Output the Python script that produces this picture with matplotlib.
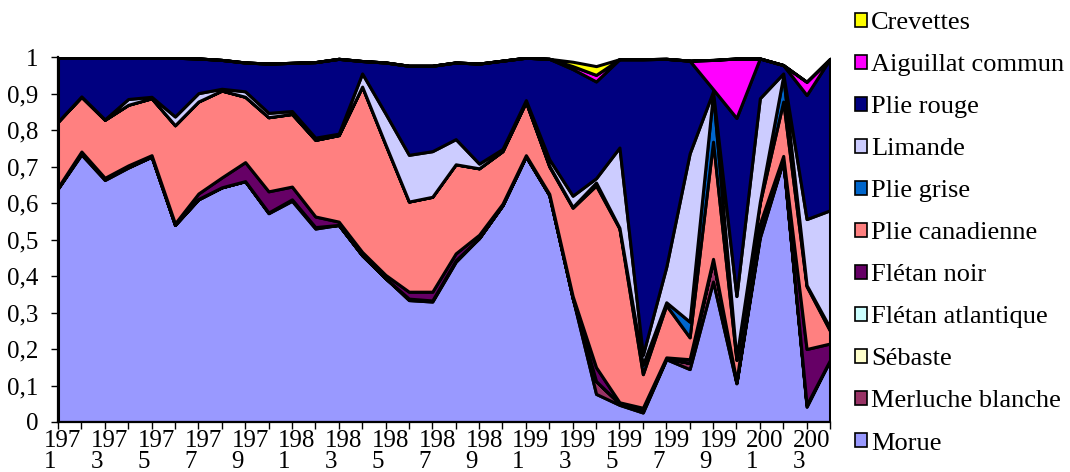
import matplotlib
matplotlib.use("Agg")
import matplotlib.pyplot as plt
import matplotlib.transforms as mtransforms
from matplotlib.patches import Patch

plt.rcParams['font.family'] = ['Liberation Serif', 'DejaVu Serif']

# Part de chaque espèce dans les débarquements, 1971-2004
annees = list(range(1971, 2005))

morue = [0.640, 0.733, 0.663, 0.697, 0.727, 0.540, 0.610, 0.643, 0.660, 0.572,
         0.606, 0.530, 0.540, 0.457, 0.394, 0.334, 0.330, 0.439, 0.504, 0.594,
         0.728, 0.622, 0.340, 0.077, 0.047, 0.026, 0.172, 0.145, 0.385, 0.106,
         0.505, 0.716, 0.042, 0.170]
merluche = [0, 0.003, 0.004, 0.001, 0, 0, 0, 0, 0, 0.002,
            0.004, 0.004, 0, 0, 0, 0.004, 0.003, 0.004, 0, 0,
            0, 0, 0, 0.035, 0.004, 0.005, 0.002, 0.017, 0.060, 0.002,
            0.008, 0.003, 0.005, 0]
sebaste = [0.001, 0.001, 0, 0.001, 0.001, 0.001, 0.001, 0, 0, 0,
           0, 0, 0, 0, 0, 0, 0, 0, 0, 0,
           0, 0, 0, 0, 0, 0, 0, 0, 0, 0,
           0, 0, 0, 0]
fletan_atl = [0, 0, 0, 0, 0, 0, 0, 0, 0, 0,
              0, 0, 0, 0, 0, 0, 0, 0, 0, 0,
              0, 0, 0, 0, 0, 0.001, 0, 0, 0, 0,
              0, 0.002, 0, 0]
fletan_noir = [0.002, 0.004, 0.002, 0.004, 0.003, 0.003, 0.015, 0.027, 0.052, 0.058,
               0.035, 0.029, 0.009, 0.009, 0.009, 0.019, 0.024, 0.019, 0.009, 0.004,
               0.003, 0.003, 0.005, 0.038, 0.003, 0.007, 0.003, 0.010, 0.002, 0.004,
               0.030, 0.008, 0.153, 0.045]
plie_can = [0.180, 0.150, 0.159, 0.166, 0.156, 0.269, 0.252, 0.238, 0.179, 0.203,
            0.199, 0.210, 0.237, 0.453, 0.357, 0.247, 0.260, 0.244, 0.182, 0.144,
            0.146, 0.075, 0.242, 0.498, 0.476, 0.092, 0.143, 0.060, 0.321, 0.058,
            0.057, 0.149, 0.172, 0.035]
plie_grise = [0, 0, 0, 0, 0, 0, 0, 0, 0, 0,
              0, 0, 0, 0, 0, 0, 0, 0, 0, 0,
              0, 0.002, 0.002, 0.008, 0.002, 0.026, 0.008, 0.043, 0.132, 0.005,
              0.003, 0.070, 0.003, 0.008]
limande = [0, 0.001, 0.001, 0.016, 0.004, 0.024, 0.023, 0.005, 0.015, 0.012,
           0.008, 0.006, 0.004, 0.036, 0.085, 0.128, 0.125, 0.069, 0.013, 0.006,
           0.005, 0.018, 0.031, 0.012, 0.220, 0.027, 0.097, 0.461, 0.006, 0.170,
           0.284, 0.007, 0.181, 0.322]
plie_rouge = [0.176, 0.107, 0.169, 0.114, 0.108, 0.161, 0.095, 0.079, 0.079, 0.135,
              0.132, 0.207, 0.205, 0.034, 0.140, 0.244, 0.234, 0.210, 0.274, 0.242,
              0.116, 0.275, 0.347, 0.265, 0.242, 0.810, 0.570, 0.254, 0.006, 0.488,
              0.109, 0.023, 0.340, 0.415]
aiguillat = [0, 0, 0, 0, 0, 0, 0, 0, 0, 0,
             0, 0, 0, 0, 0, 0, 0, 0, 0, 0,
             0, 0, 0.008, 0.018, 0, 0, 0, 0, 0.080, 0.163,
             0, 0, 0.036, 0]
crevettes = [0, 0, 0, 0, 0, 0, 0, 0, 0, 0,
             0, 0, 0, 0, 0, 0, 0, 0, 0, 0,
             0, 0, 0.012, 0.024, 0, 0, 0, 0, 0, 0,
             0, 0, 0, 0]

especes = ["Morue", "Merluche blanche", "Sébaste", "Flétan atlantique", "Flétan noir",
           "Plie canadienne", "Plie grise", "Limande", "Plie rouge",
           "Aiguillat commun", "Crevettes"]
series = [morue, merluche, sebaste, fletan_atl, fletan_noir, plie_can,
          plie_grise, limande, plie_rouge, aiguillat, crevettes]
couleurs = ["#9999FF", "#993366", "#FFFFCC", "#CCFFFF", "#660066", "#FF8080",
            "#0066CC", "#CCCCFF", "#000080", "#FF00FF", "#FFFF00"]

fig = plt.figure(figsize=(10.7, 4.72), dpi=100)
ax = fig.add_axes([58/1070, 50/472, (830-58)/1070, (422-57)/472])

ax.stackplot(annees, *series, colors=couleurs, edgecolor='black', linewidth=2.2)

ax.set_xlim(1971, 2004)
ax.set_ylim(0, 1)

ax.set_yticks([i/10 for i in range(11)])
ax.set_yticklabels(['0'] + ['0,%d' % i for i in range(1, 10)] + ['1'])

labels = []
for a in annees:
    labels.append(str(a)[:3] + "\n" + str(a)[3] if (a - 1971) % 2 == 0 else "")
ax.set_xticks(annees)
ax.set_xticklabels(labels, multialignment='left', linespacing=0.95)

ax.tick_params(axis='both', direction='out', length=5, width=1, labelsize=18,
               colors='black')
ax.tick_params(axis='x', pad=1)
ax.tick_params(axis='y', pad=9)

# années décalées un peu à droite de leur graduation
decalage = mtransforms.ScaledTranslation(5/100, 0, fig.dpi_scale_trans)
for lab in ax.get_xticklabels():
    lab.set_transform(lab.get_transform() + decalage)

for s in ['top', 'right']:
    ax.spines[s].set_visible(False)
for s in ['left', 'bottom']:
    ax.spines[s].set_linewidth(1.6)

# Légende : de la couche du haut vers celle du bas
poignees = [Patch(facecolor=c, edgecolor='black', linewidth=1.2)
            for c in reversed(couleurs)]
fig.legend(poignees, list(reversed(especes)), loc='upper left',
           bbox_to_anchor=(855/1070, 1 - 12/472), frameon=False, fontsize=19,
           handlelength=0.45, handleheight=0.45, handletextpad=0.15,
           labelspacing=0.76, borderpad=0, borderaxespad=0)

fig.savefig("out.png", dpi=100)
